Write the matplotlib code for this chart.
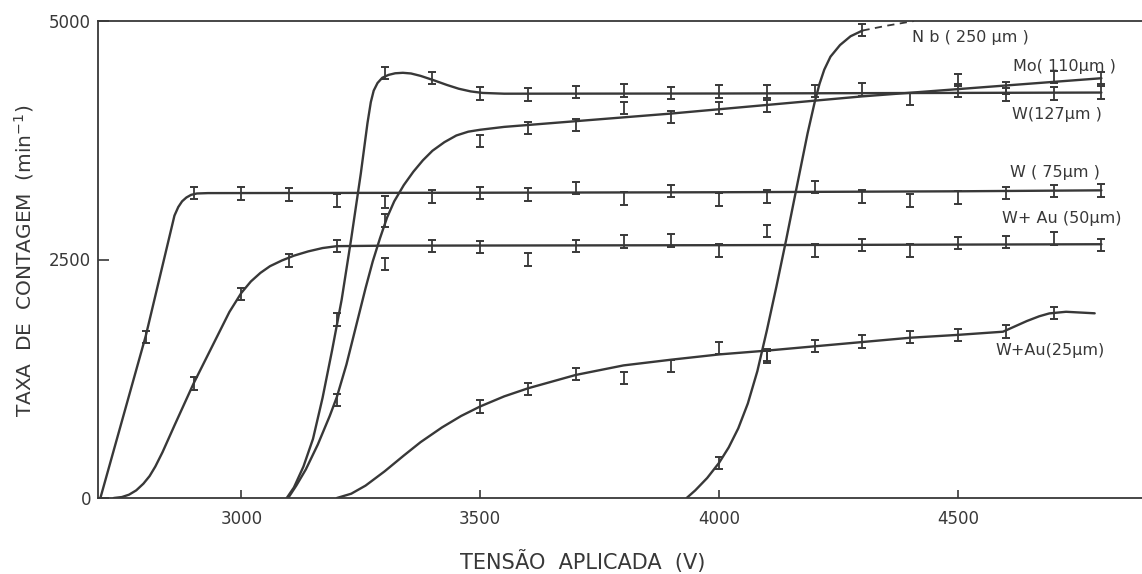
#!/usr/bin/env python3
import matplotlib

matplotlib.use("Agg")
import matplotlib.pyplot as plt

# hand-drawn curves (voltage V, rate min^-1)
w75_x = [2705, 2800, 2860, 2868, 2876, 2885, 2895, 2907, 2930, 3500,
         4000, 4500, 4800]
w75_y = [0, 1700, 2960, 3050, 3110, 3150, 3178, 3192, 3196, 3200,
         3205, 3215, 3225]

wau50_x = [2733, 2750, 2765, 2780, 2795, 2808, 2820, 2835, 2860, 2900,
           2950, 2975, 3000, 3020, 3040, 3060, 3085, 3110, 3140, 3170,
           3200, 3300, 4000, 4800]
wau50_y = [0, 10, 35, 80, 150, 230, 330, 480, 760, 1200,
           1700, 1950, 2150, 2270, 2360, 2430, 2490, 2540, 2585, 2620,
           2640, 2645, 2650, 2660]

w127_x = [3095, 3110, 3130, 3150, 3170, 3190, 3210, 3230, 3250, 3264,
          3271, 3277, 3285, 3295, 3308, 3322, 3338, 3355, 3375, 3402,
          3430, 3455, 3480, 3505, 3550, 4000, 4800]
w127_y = [0, 110, 330, 620, 1050, 1550, 2080, 2720, 3400, 3930,
          4150, 4270, 4350, 4405, 4435, 4452, 4457, 4450, 4425, 4380,
          4330, 4290, 4262, 4246, 4238, 4240, 4250]

mo_x = [3098, 3115, 3135, 3160, 3185, 3200, 3220, 3240, 3260, 3275,
        3290, 3305, 3320, 3340, 3360, 3380, 3400, 3425, 3450, 3475,
        3500, 3550, 3900, 4300, 4800]
mo_y = [0, 130, 300, 560, 860, 1060, 1400, 1800, 2200, 2480,
        2720, 2940, 3110, 3280, 3420, 3540, 3640, 3730, 3800, 3840,
        3860, 3890, 4030, 4210, 4400]

wau25_x = [3200, 3230, 3260, 3300, 3340, 3375, 3420, 3460, 3500, 3550,
           3600, 3700, 3800, 3900, 4000, 4100, 4200, 4300, 4400, 4500,
           4594, 4615, 4644, 4670, 4691, 4726, 4786]
wau25_y = [0, 45, 130, 280, 445, 585, 740, 860, 960, 1065,
           1150, 1290, 1390, 1450, 1505, 1545, 1590, 1635, 1680, 1710,
           1743, 1790, 1855, 1905, 1935, 1952, 1936]

nb_x = [3932, 3950, 3975, 4000, 4020, 4040, 4060, 4080, 4100, 4120,
        4140, 4160, 4185, 4200, 4210, 4220, 4233, 4253, 4275, 4300]
nb_y = [0, 80, 210, 370, 530, 730, 990, 1330, 1760, 2220,
        2700, 3200, 3820, 4150, 4340, 4490, 4626, 4748, 4840, 4900]
nb_dash_x = [4300, 4350, 4408]
nb_dash_y = [4900, 4950, 5000]

# measured points with error bars
w75_px = [2800, 2900, 3000, 3100, 3200, 3300, 3400, 3500, 3600, 3700, 3800,
          3900, 4000, 4100, 4200, 4300, 4400, 4500, 4600, 4700, 4800]
w75_py = [1690, 3200, 3190, 3180, 3120, 3100, 3160, 3200, 3180, 3250, 3140,
          3220, 3130, 3160, 3260, 3160, 3120, 3150, 3200, 3220, 3225]

wau50_px = [2900, 3000, 3100, 3200, 3300, 3400, 3500, 3600, 3700, 3800,
            3900, 4000, 4100, 4200, 4300, 4400, 4500, 4600, 4700, 4800]
wau50_py = [1200, 2140, 2490, 2640, 2450, 2640, 2630, 2500, 2640, 2690,
            2700, 2595, 2800, 2595, 2650, 2595, 2670, 2685, 2720, 2650]

w127_px = [3200, 3300, 3400, 3500, 3600, 3700, 3800, 3900, 4000, 4100,
           4200, 4300, 4400, 4500, 4600, 4700, 4800]
w127_py = [1870, 4455, 4400, 4240, 4230, 4255, 4270, 4245, 4260, 4260,
           4265, 4280, 4180, 4270, 4230, 4240, 4250]

mo_px = [3200, 3300, 3500, 3600, 3700, 3800, 3900, 4000, 4100, 4500,
         4600, 4700, 4800]
mo_py = [1030, 2910, 3745, 3880, 3910, 4085, 3995, 4090, 4110, 4380,
         4295, 4410, 4400]

wau25_px = [3500, 3600, 3700, 3800, 3900, 4000, 4100, 4200, 4300, 4400,
            4500, 4600, 4700]
wau25_py = [960, 1145, 1300, 1255, 1385, 1570, 1480, 1595, 1640, 1690,
            1710, 1745, 1940]

nb_px = [4000, 4100, 4300]
nb_py = [365, 1500, 4905]

labels = ["N b ( 250 µm )", "Mo( 110µm )", "W(127µm )", "W ( 75µm )",
          "W+ Au (50µm)", "W+Au(25µm)"]
label_x = [4403, 4615, 4613, 4609, 4591, 4579]
label_y = [4822, 4518, 4025, 3417, 2935, 1541]

x_ticks = [3000, 3500, 4000, 4500]
y_ticks = [0, 2500, 5000]


def main():
    ink = "#383838"
    W, H = 1142, 574
    fig = plt.figure(figsize=(W / 100, H / 100), dpi=100)
    fig.patch.set_facecolor("white")
    ax = fig.add_axes([98 / W, 1 - 498 / H, (W - 98) / W, (498 - 21) / H])

    curves = [
        (w75_x, w75_y),
        (wau50_x, wau50_y),
        (w127_x, w127_y),
        (mo_x, mo_y),
        (wau25_x, wau25_y),
        (nb_x, nb_y),
    ]
    for cx, cy in curves:
        ax.plot(cx, cy, color=ink, lw=1.7, solid_capstyle="round",
                solid_joinstyle="round")
    ax.plot(nb_dash_x, nb_dash_y, color=ink, lw=1.3, ls=(0, (4, 3)))

    points = [
        (w75_px, w75_py),
        (wau50_px, wau50_py),
        (w127_px, w127_py),
        (mo_px, mo_py),
        (wau25_px, wau25_py),
        (nb_px, nb_py),
    ]
    for px, py in points:
        ax.errorbar(px, py, yerr=65, fmt="none", ecolor=ink, elinewidth=1.3,
                    capsize=2.6, capthick=1.4)

    for text, tx, ty in zip(labels, label_x, label_y):
        ax.text(tx, ty, text, fontsize=11.5, color=ink, ha="left",
                va="center", clip_on=False)

    ax.set_xlim(2700, 4885)
    ax.set_ylim(0, 5000)
    ax.set_xticks(x_ticks)
    ax.set_yticks(y_ticks)
    ax.tick_params(axis="x", direction="in", length=6, width=1.2, pad=9,
                   labelsize=12, colors=ink)
    ax.tick_params(axis="y", direction="in", length=8, width=1.2, pad=5,
                   labelsize=12, colors=ink)
    ax.spines["right"].set_visible(False)
    for side in ("left", "bottom", "top"):
        ax.spines[side].set_color(ink)
        ax.spines[side].set_linewidth(1.3)

    fig.text(24 / W, 1 - 261 / H, "TAXA  DE  CONTAGEM  (min$^{-1}$)",
             rotation=90, ha="center", va="center", fontsize=14.5, color=ink)
    fig.text(583 / W, 1 - 562 / H, "TENSÃO  APLICADA  (V)",
             ha="center", va="center", fontsize=15, color=ink)

    fig.savefig("out.png", dpi=100, facecolor="white")


if __name__ == "__main__":
    main()
